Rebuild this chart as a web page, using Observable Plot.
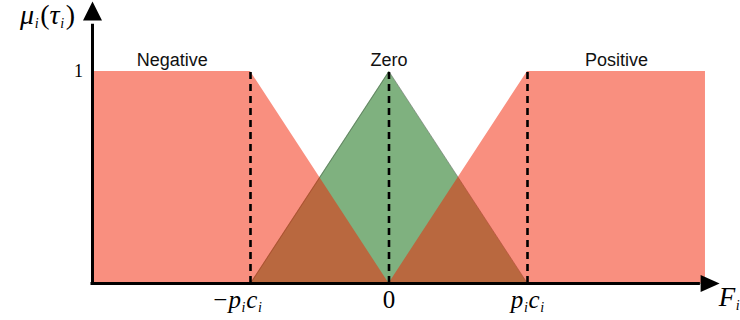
<!DOCTYPE html>
<html>
<head>
<meta charset="utf-8">
<script src="https://cdn.jsdelivr.net/npm/d3@7"></script>
<script src="https://cdn.jsdelivr.net/npm/@observablehq/plot@0.6"></script>
<style>
  html, body { margin: 0; padding: 0; background: white; }
  #chart svg { display: block; }
</style>
</head>
<body>
<div id="chart"></div>
<script>
// ---- data ----
const xBreaks   = [-2.13, -1, 0, 1, 2.285];   // in units of p_i c_i
const negative  = [1, 1, 0, 0, 0];
const zero      = [0, 0, 1, 0, 0];
const positive  = [0, 0, 0, 1, 1];
const setNames  = ["Negative", "Zero", "Positive"];
const tickValues = [-1, 0, 1];
const tickLabels = ["−p_ic_i", "0", "p_ic_i"];
const yTickValues = [1];
const yTickLabels = ["1"];
const yAxisLabel = "μ_i(τ_i)";
const xAxisLabel = "F_i";
const xAxisEnd = 2.25;   // where the x arrowhead starts
const yAxisEnd = 1.24;   // where the y arrowhead starts

const series = [negative, zero, positive];
const rows = (vals) => xBreaks.map((x, i) => ({x, y: vals[i]}));
// label position: middle of the plateau where membership is 1
const labelRows = series.map((vals, k) => {
  const idx = vals.map((v, i) => v === 1 ? i : -1).filter(i => i >= 0);
  return {x: (xBreaks[idx[0]] + xBreaks[idx[idx.length - 1]]) / 2, y: 1, name: setNames[k]};
});
const xAxisPos = xBreaks[0];

const red = "#f32000", green = "#006400";
const mathFont = "'Liberation Serif', 'DejaVu Serif', serif";

const chart = Plot.plot({
  width: 740,
  height: 320,
  x: {domain: [-1, 1], range: [250, 527], axis: null},
  y: {domain: [0, 1], range: [283, 71], axis: null},
  style: {background: "white", overflow: "visible"},
  marks: [
    Plot.areaY(rows(zero), {x: "x", y: "y", fill: green, fillOpacity: 0.5}),
    Plot.line(rows(zero), {x: "x", y: "y", stroke: "#4f5f4f", strokeWidth: 0.8, strokeOpacity: 0.7}),
    Plot.areaY(rows(negative), {x: "x", y: "y", fill: red, fillOpacity: 0.5}),
    Plot.areaY(rows(positive), {x: "x", y: "y", fill: red, fillOpacity: 0.5}),
    Plot.ruleX(tickValues, {y1: 0, y2: 1, stroke: "black", strokeWidth: 2.6, strokeDasharray: "7,5"}),
    // axes
    Plot.ruleY([0], {x1: xAxisPos, x2: xAxisEnd + 0.02, dx: -3, stroke: "black", strokeWidth: 3}),
    Plot.ruleX([xAxisPos], {y1: 0, y2: yAxisEnd - 0.01, dx: -1.5, dy: 1.5, stroke: "black", strokeWidth: 3}),
    Plot.vector([{x: xAxisEnd, y: 0}], {x: "x", y: "y", rotate: 90, length: 19, r: 8.5, shape: "spike", anchor: "start", fill: "black", stroke: "none"}),
    Plot.vector([{x: xAxisPos, y: yAxisEnd}], {x: "x", y: "y", rotate: 0, length: 19, r: 9.5, shape: "spike", anchor: "start", dx: -1.5, fill: "black", stroke: "none"}),
    // set names
    Plot.text(labelRows, {x: "x", y: "y", text: "name", lineAnchor: "bottom", dy: -6, fontSize: 18, fontFamily: "'Liberation Sans', Arial, sans-serif", fill: "#111"}),
    // tick labels
    Plot.text(tickValues.slice(0, 1), {x: d => d, y: 0, text: (d, i) => tickLabels[0], lineAnchor: "bottom", dy: 24, dx: -13, fontSize: 25, fontFamily: mathFont, fill: "black"}),
    Plot.text(tickValues.slice(1), {x: d => d, y: 0, text: (d, i) => tickLabels[i + 1], lineAnchor: "bottom", dy: 24, fontSize: 25, fontFamily: mathFont, fill: "black"}),
    Plot.text(yTickValues, {x: xAxisPos, y: d => d, text: (d, i) => yTickLabels[i], textAnchor: "end", lineAnchor: "middle", dx: -11, fontSize: 18, fontFamily: mathFont, fill: "black"}),
    // axis labels
    Plot.text([xAxisLabel], {x: xAxisEnd, y: 0, text: d => d, textAnchor: "start", lineAnchor: "bottom", dx: 18, dy: 22, fontSize: 27, fontFamily: mathFont, fill: "black"}),
    Plot.text([yAxisLabel], {x: xAxisPos, y: yAxisEnd, text: d => d, textAnchor: "end", lineAnchor: "bottom", dx: -19, dy: 3, fontSize: 28, fontFamily: mathFont, fill: "black"})
  ]
});

// turn "a_b" style strings into italic math text with subscripts
const mathSet = new Set([...tickLabels, yAxisLabel, xAxisLabel]);
d3.select(chart).selectAll("text").each(function() {
  const el = this;
  const s = el.textContent;
  if (!mathSet.has(s) || !/[_a-zA-Zμτ]/.test(s)) return;
  const fs = parseFloat(getComputedStyle(el).fontSize) || 20;
  const shift = fs * 0.22;
  el.textContent = "";
  let shifted = false;
  const chars = Array.from(s);
  for (let i = 0; i < chars.length; i++) {
    const ch = chars[i];
    const t = document.createElementNS("http://www.w3.org/2000/svg", "tspan");
    if (ch === "_") {
      t.textContent = chars[i + 1];
      t.setAttribute("font-style", "italic");
      t.setAttribute("font-size", (fs * 0.7) + "px");
      t.setAttribute("dx", fs * 0.03);
      if (!shifted) t.setAttribute("dy", shift);
      shifted = true;
      i++;
    } else {
      t.textContent = ch;
      if (/[a-zA-Zμτ]/.test(ch)) t.setAttribute("font-style", "italic");
      if (shifted) t.setAttribute("dy", -shift);
      shifted = false;
      if (ch === "(" || ch === ")") t.setAttribute("dx", fs * 0.08);
      if (ch === "c") t.setAttribute("dx", fs * 0.04);
      if (i > 0 && chars[i - 1] === "−") t.setAttribute("dx", fs * 0.06);
    }
    el.appendChild(t);
  }
});

document.getElementById("chart").appendChild(chart);
</script>
</body>
</html>
